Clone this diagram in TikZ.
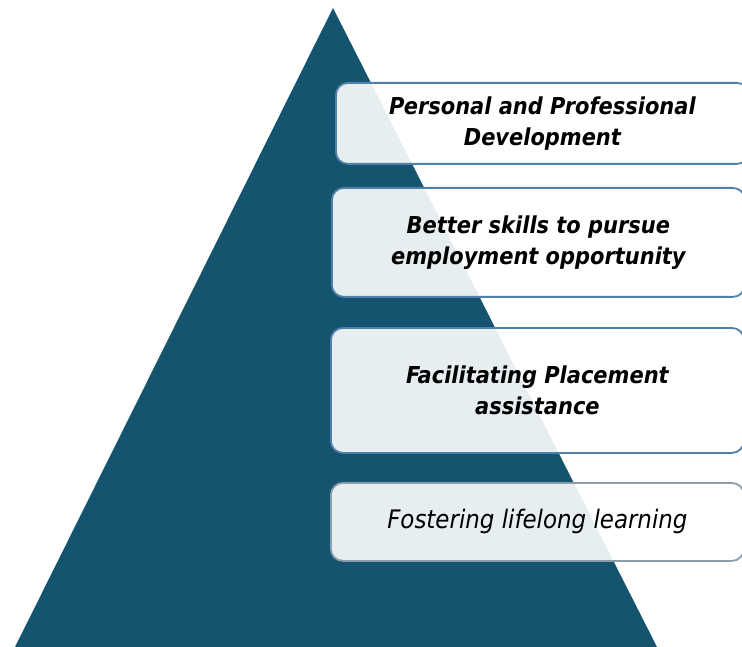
\documentclass[tikz,border=0pt]{standalone}
\usepackage{fontspec}
\setmainfont{DejaVu Sans Condensed}
\usetikzlibrary{positioning}
\definecolor{pyramid}{HTML}{14546F}
\definecolor{rimblue}{HTML}{4F80A8}
\definecolor{rimgray}{HTML}{8C9DAC}

\begin{document}
\begin{tikzpicture}[x=1pt, y=-1pt,
    level/.style={draw=rimblue, line width=1.8pt, rounded corners=12pt,
      fill=white, fill opacity=0.9, text opacity=1, anchor=north west,
      minimum width=413pt, inner sep=0pt, align=center,
      font=\fontsize{23.3}{31}\selectfont\bfseries\itshape}]
  \useasboundingbox (0,0) rectangle (742,647);

  % pyramid
  \coordinate (top) at (333,8);
  \coordinate (bl) at (15,647);
  \coordinate (br) at (657,647);
  \fill[pyramid] (top) -- (br) -- (bl) -- cycle;

  % levels
  \node[level, minimum height=81pt] (dev) at (335,82) {Personal and Professional\\Development};
  \node[level, minimum height=109pt] (skills) at (331,187) {Better skills to pursue\\employment opportunity};
  \node[level, minimum height=125pt] (place) at (330,327) {Facilitating Placement\\assistance};
  \node[level, draw=rimgray, minimum height=78pt,
    font=\fontsize{25.5}{31}\selectfont\itshape] (learn) at (330,482) {Fostering lifelong learning};
\end{tikzpicture}
\end{document}
